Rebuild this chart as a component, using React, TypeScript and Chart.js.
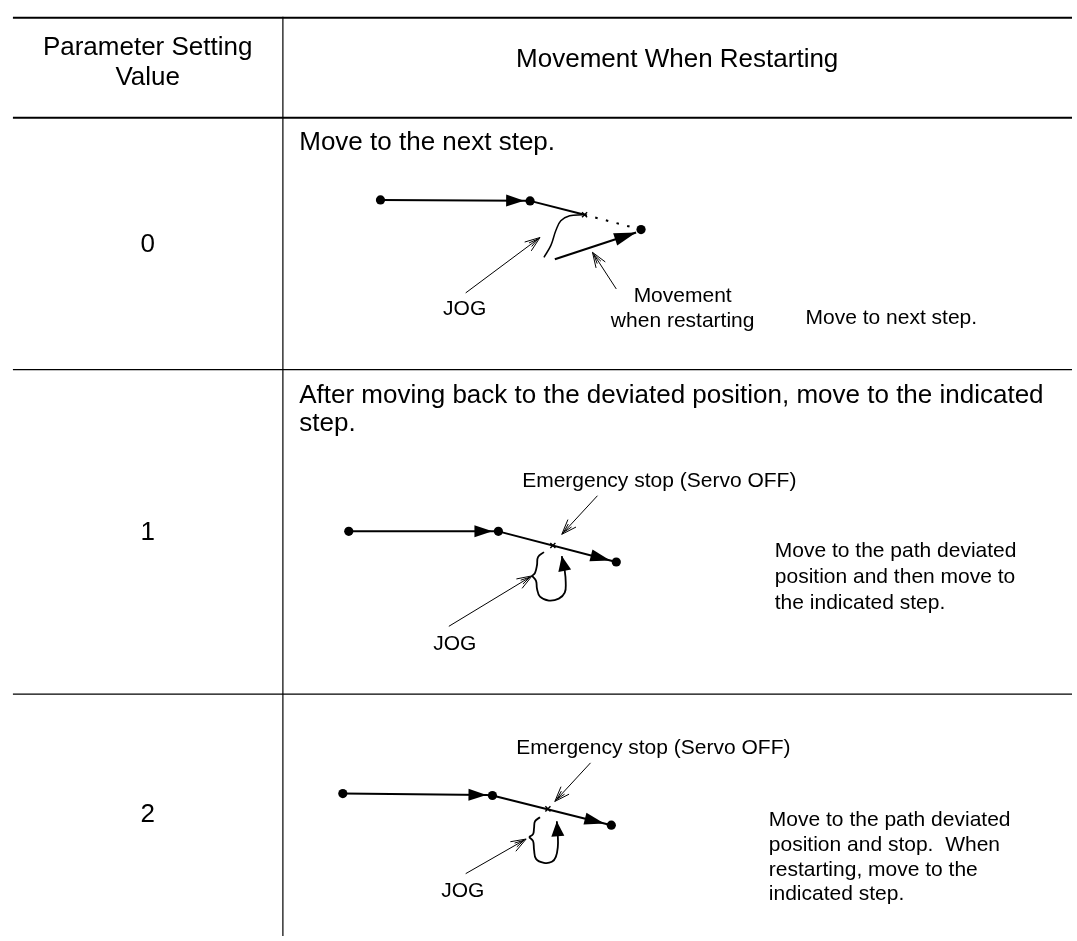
import React, { useEffect, useRef } from "react";
import { Chart, registerables } from "chart.js";

Chart.register(...registerables);

type P = { x: number; y: number };

// ---------- text content ----------
const headerLeftLines = ["Parameter Setting", "Value"];
const headerRightTitle = "Movement When Restarting";
const settingValues = ["0", "1", "2"];
const movementTitles = [
  ["Move to the next step."],
  ["After moving back to the deviated position, move to the indicated", "step."],
  [] as string[],
];
const sideNotes = [
  ["Move to next step."],
  ["Move to the path deviated", "position and then move to", "the indicated step."],
  ["Move to the path deviated", "position and stop.  When", "restarting, move to the", "indicated step."],
];
const jogLabel = "JOG";
const restartLabel = ["Movement", "when restarting"];
const stopLabel = "Emergency stop (Servo OFF)";

// ---------- table rules (diagram units) ----------
const ruleTop: P[] = [{ x: 8, y: 13 }, { x: 1077, y: 13 }];
const ruleHeader: P[] = [{ x: 8, y: 114 }, { x: 1077, y: 114 }];
const ruleRow1: P[] = [{ x: 8, y: 368.5 }, { x: 1077, y: 368.5 }];
const ruleRow2: P[] = [{ x: 8, y: 696.5 }, { x: 1077, y: 696.5 }];
const ruleColumn: P[] = [{ x: 280.5, y: 12 }, { x: 280.5, y: 941 }];

// ---------- row 0 ----------
const r0Teach: P[] = [{ x: 379, y: 197 }, { x: 524, y: 197.8 }, { x: 530, y: 198 }];
const r0Deviate: P[] = [{ x: 530, y: 198 }, { x: 585, y: 212 }];
const r0Skip: P[] = [{ x: 585, y: 212 }, { x: 642, y: 227 }];
const r0Jog: P[] = [
  { x: 544, y: 255 }, { x: 551, y: 243 }, { x: 556, y: 228 },
  { x: 561, y: 218 }, { x: 570, y: 213 }, { x: 583, y: 212 },
];
const r0Restart: P[] = [{ x: 555, y: 257 }, { x: 637, y: 230 }];
const r0JogPointer: P[] = [{ x: 465, y: 291 }, { x: 540, y: 235 }];
const r0MovePointer: P[] = [{ x: 617, y: 287 }, { x: 593, y: 250 }];
const r0Dots: P[] = [{ x: 379, y: 197 }, { x: 530, y: 198 }, { x: 642, y: 227 }];
const r0Stop: P[] = [{ x: 585, y: 212 }];

// ---------- row 1 ----------
const r1Teach: P[] = [{ x: 347, y: 532 }, { x: 492, y: 532 }, { x: 498, y: 532 }];
const r1Path: P[] = [{ x: 498, y: 532 }, { x: 611, y: 561.4 }, { x: 617, y: 563 }];
const r1BraceUpper: P[] = [
  { x: 544, y: 553 }, { x: 538, y: 558 }, { x: 537, y: 566 }, { x: 535, y: 574 }, { x: 532, y: 577 },
];
const r1BraceLower: P[] = [
  { x: 532, y: 577 }, { x: 536, y: 582 }, { x: 537, y: 590 }, { x: 540, y: 598 },
  { x: 549, y: 602 }, { x: 559, y: 600 }, { x: 565, y: 594 }, { x: 566, y: 584 },
  { x: 565, y: 572 }, { x: 562, y: 557 },
];
const r1JogPointer: P[] = [{ x: 448, y: 628 }, { x: 532, y: 577 }];
const r1StopPointer: P[] = [{ x: 598, y: 496 }, { x: 562, y: 535 }];
const r1Dots: P[] = [{ x: 347, y: 532 }, { x: 498, y: 532 }, { x: 617, y: 563 }];
const r1Stop: P[] = [{ x: 553, y: 546.3 }];

// ---------- row 2 ----------
const r2Teach: P[] = [{ x: 341, y: 797 }, { x: 486, y: 798.5 }, { x: 492, y: 799 }];
const r2Path: P[] = [{ x: 492, y: 799 }, { x: 605, y: 827.3 }, { x: 612, y: 829 }];
const r2BraceUpper: P[] = [
  { x: 540, y: 821 }, { x: 535, y: 825 }, { x: 534, y: 832 }, { x: 533, y: 838 }, { x: 529, y: 841 },
];
const r2BraceLower: P[] = [
  { x: 529, y: 841 }, { x: 533, y: 845 }, { x: 534, y: 854 }, { x: 536, y: 863 },
  { x: 544, y: 867 }, { x: 552, y: 866 }, { x: 556, y: 861 }, { x: 558, y: 851 },
  { x: 558, y: 840 }, { x: 557, y: 825 },
];
const r2JogPointer: P[] = [{ x: 465, y: 878 }, { x: 526, y: 843 }];
const r2StopPointer: P[] = [{ x: 591, y: 766 }, { x: 555, y: 805 }];
const r2Dots: P[] = [{ x: 341, y: 797 }, { x: 492, y: 799 }, { x: 612, y: 829 }];
const r2Stop: P[] = [{ x: 548, y: 812.5 }];

// ---------- styles / layout ----------
const FONT = '"Liberation Sans", Arial, Helvetica, sans-serif';
const BIG = 26;
const SMALL = 21;

type Head = { index: number; length: number; half: number; open?: boolean };

function pathSet(data: P[], width: number, extra: any = {}) {
  return {
    data,
    showLine: true,
    borderColor: "#000",
    backgroundColor: "#000",
    borderWidth: width,
    pointRadius: 0,
    pointHoverRadius: 0,
    fill: false,
    tension: 0,
    ...extra,
  };
}
function dotSet(data: P[]) {
  return {
    data,
    showLine: false,
    pointRadius: 4.6,
    pointHoverRadius: 4.6,
    pointBackgroundColor: "#000",
    pointBorderColor: "#000",
    pointBorderWidth: 0,
  };
}
function crossSet(data: P[]) {
  return {
    data,
    showLine: false,
    pointStyle: "crossRot",
    pointRadius: 3.6,
    pointHoverRadius: 3.6,
    pointBorderColor: "#000",
    pointBorderWidth: 1.4,
  };
}

const filledHead = (index: number, length = 18, half = 6): Head => ({ index, length, half });
const openHead: Head = { index: 1, length: 15, half: 5.5, open: true };

type TextItem = { t: string; x: number; y: number; size: number; align: CanvasTextAlign };
const L = "left" as CanvasTextAlign;

const textItems: TextItem[] = [
  { t: headerLeftLines[0], x: 144, y: 51, size: BIG, align: "center" },
  { t: headerLeftLines[1], x: 144, y: 81, size: BIG, align: "center" },
  { t: headerRightTitle, x: 678.5, y: 63, size: BIG, align: "center" },
  { t: settingValues[0], x: 144, y: 250, size: BIG, align: "center" },
  { t: settingValues[1], x: 144, y: 541, size: BIG, align: "center" },
  { t: settingValues[2], x: 144, y: 826, size: BIG, align: "center" },
  ...movementTitles[0].map((t, i) => ({ t, x: 297, y: 147 + i * 29, size: BIG, align: L })),
  ...movementTitles[1].map((t, i) => ({ t, x: 297, y: 402 + i * 29, size: BIG, align: L })),
  // row 0 callouts
  { t: jogLabel, x: 464, y: 313, size: SMALL, align: "center" },
  { t: restartLabel[0], x: 684, y: 300, size: SMALL, align: "center" },
  { t: restartLabel[1], x: 684, y: 325, size: SMALL, align: "center" },
  ...sideNotes[0].map((t, i) => ({ t, x: 808, y: 322 + i * 26, size: SMALL, align: L })),
  // row 1 callouts
  { t: stopLabel, x: 522, y: 487, size: SMALL, align: L },
  { t: jogLabel, x: 454, y: 652, size: SMALL, align: "center" },
  ...sideNotes[1].map((t, i) => ({ t, x: 777, y: 558 + i * 26, size: SMALL, align: L })),
  // row 2 callouts
  { t: stopLabel, x: 516, y: 757, size: SMALL, align: L },
  { t: jogLabel, x: 462, y: 902, size: SMALL, align: "center" },
  ...sideNotes[2].map((t, i) => ({ t, x: 771, y: 830 + i * 25, size: SMALL, align: L })),
];

const arrowPlugin = {
  id: "arrowHeads",
  afterDatasetsDraw(chart: any) {
    const ctx: CanvasRenderingContext2D = chart.ctx;
    chart.data.datasets.forEach((ds: any, i: number) => {
      const head: Head | undefined = ds.arrowHead;
      if (!head) return;
      const meta = chart.getDatasetMeta(i);
      const p = meta.data[head.index];
      const q = meta.data[head.index - 1];
      if (!p || !q) return;
      const a = Math.atan2(p.y - q.y, p.x - q.x);
      const cx = p.x - Math.cos(a) * head.length;
      const cy = p.y - Math.sin(a) * head.length;
      const nx = -Math.sin(a) * head.half;
      const ny = Math.cos(a) * head.half;
      ctx.save();
      ctx.strokeStyle = "#000";
      ctx.fillStyle = "#000";
      if (head.open) {
        ctx.lineWidth = 1;
        ctx.beginPath();
        ctx.moveTo(cx + nx, cy + ny);
        ctx.lineTo(p.x, p.y);
        ctx.lineTo(cx - nx, cy - ny);
        const ix = p.x - Math.cos(a) * head.length * 0.8;
        const iy = p.y - Math.sin(a) * head.length * 0.8;
        ctx.moveTo(ix + nx * 0.4, iy + ny * 0.4);
        ctx.lineTo(p.x - Math.cos(a) * 2.5, p.y - Math.sin(a) * 2.5);
        ctx.lineTo(ix - nx * 0.4, iy - ny * 0.4);
        ctx.stroke();
      } else {
        ctx.beginPath();
        ctx.moveTo(p.x, p.y);
        ctx.lineTo(cx + nx, cy + ny);
        ctx.lineTo(cx - nx, cy - ny);
        ctx.closePath();
        ctx.fill();
      }
      ctx.restore();
    });
  },
};

const textPlugin = {
  id: "diagramText",
  afterDraw(chart: any) {
    const ctx: CanvasRenderingContext2D = chart.ctx;
    const xs = chart.scales.x;
    const ys = chart.scales.y;
    ctx.save();
    ctx.fillStyle = "#000";
    ctx.textBaseline = "alphabetic";
    for (const item of textItems) {
      ctx.font = `${item.size}px ${FONT}`;
      ctx.textAlign = item.align;
      ctx.fillText(item.t, xs.getPixelForValue(item.x), ys.getPixelForValue(item.y));
    }
    ctx.restore();
  },
};

export default function App() {
  const ref = useRef<HTMLCanvasElement>(null);
  useEffect(() => {
    if (!ref.current) return;
    const datasets: any[] = [
      pathSet(ruleTop, 2),
      pathSet(ruleHeader, 2),
      pathSet(ruleRow1, 1.2),
      pathSet(ruleRow2, 1.2),
      pathSet(ruleColumn, 1.2),
      // row 0
      pathSet(r0Teach, 2, { arrowHead: filledHead(1) }),
      pathSet(r0Deviate, 2),
      pathSet(r0Skip, 2, { borderDash: [2.5, 8.5] }),
      pathSet(r0Jog, 1.5, { tension: 0.4 }),
      pathSet(r0Restart, 2.2, { arrowHead: filledHead(1, 22, 6.5) }),
      pathSet(r0JogPointer, 1, { arrowHead: openHead }),
      pathSet(r0MovePointer, 1, { arrowHead: openHead }),
      dotSet(r0Dots),
      crossSet(r0Stop),
      // row 1
      pathSet(r1Teach, 2, { arrowHead: filledHead(1) }),
      pathSet(r1Path, 2, { arrowHead: filledHead(1, 20, 6) }),
      pathSet(r1BraceUpper, 1.8, { tension: 0.4 }),
      pathSet(r1BraceLower, 1.8, { tension: 0.4, arrowHead: filledHead(r1BraceLower.length - 1, 15, 6.5) }),
      pathSet(r1JogPointer, 1, { arrowHead: openHead }),
      pathSet(r1StopPointer, 1, { arrowHead: openHead }),
      dotSet(r1Dots),
      crossSet(r1Stop),
      // row 2
      pathSet(r2Teach, 2, { arrowHead: filledHead(1) }),
      pathSet(r2Path, 2, { arrowHead: filledHead(1, 20, 6) }),
      pathSet(r2BraceUpper, 1.8, { tension: 0.4 }),
      pathSet(r2BraceLower, 1.8, { tension: 0.4, arrowHead: filledHead(r2BraceLower.length - 1, 15, 6.5) }),
      pathSet(r2JogPointer, 1, { arrowHead: openHead }),
      pathSet(r2StopPointer, 1, { arrowHead: openHead }),
      dotSet(r2Dots),
      crossSet(r2Stop),
    ];
    const chart = new Chart(ref.current, {
      type: "scatter",
      data: { datasets },
      options: {
        responsive: false,
        animation: false,
        devicePixelRatio: 1,
        events: [],
        layout: { padding: 0 },
        scales: {
          x: { type: "linear", min: 0, max: 1077, display: false },
          y: { type: "linear", min: 0, max: 941, reverse: true, display: false },
        },
        plugins: { legend: { display: false }, tooltip: { enabled: false } },
      },
      plugins: [arrowPlugin, textPlugin],
    } as any);
    return () => chart.destroy();
  }, []);
  return (
    <div style={{ position: "fixed", left: 0, top: 0, width: 1077, height: 941, background: "#fff" }}>
      <canvas ref={ref} width={1077} height={941} style={{ display: "block", width: 1077, height: 941 }} />
    </div>
  );
}
